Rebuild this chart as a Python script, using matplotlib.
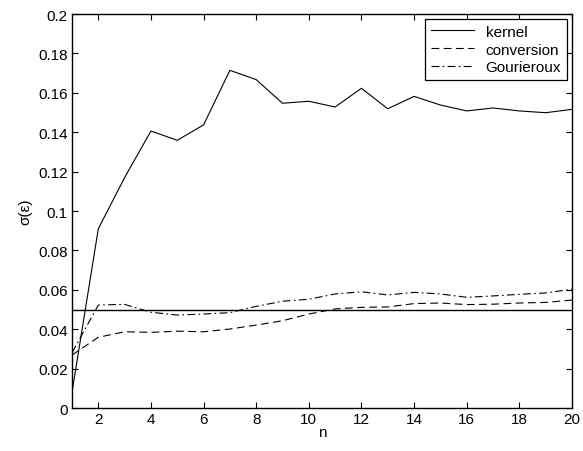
import numpy as np
import matplotlib.pyplot as plt

plt.rcParams['font.family'] = ['Liberation Sans', 'DejaVu Sans']
plt.rcParams['font.size'] = 11

n = np.arange(1, 21)
kernel = [0.008, 0.091, 0.117, 0.1406, 0.1359, 0.1437, 0.1714, 0.1667, 0.1547, 0.1557,
          0.1528, 0.1623, 0.1519, 0.1582, 0.1538, 0.1508, 0.1523, 0.1508, 0.1499, 0.1516]
conversion = [0.0269, 0.0359, 0.0387, 0.0384, 0.0390, 0.0387, 0.0401, 0.0421, 0.0443, 0.0477,
              0.0503, 0.0511, 0.0513, 0.0530, 0.0533, 0.0525, 0.0527, 0.0533, 0.0536, 0.0548]
gourieroux = [0.028, 0.0523, 0.0526, 0.0486, 0.0472, 0.0477, 0.0484, 0.0516, 0.0542, 0.0552,
              0.0579, 0.0590, 0.0574, 0.0587, 0.0579, 0.0562, 0.0569, 0.0577, 0.0584, 0.0603]
ref_level = 0.05

fig = plt.figure(figsize=(5.83, 4.52), dpi=100)
ax = fig.add_axes([0.1235, 0.0951, 0.8575, 0.8717])

ax.plot(n, kernel, 'k-', lw=0.8, label='kernel')
ax.plot(n, conversion, color='k', lw=0.8, dashes=(7, 4), label='conversion')
ax.plot(n, gourieroux, color='k', lw=0.8, dashes=(7, 3, 1.5, 3), label='Gourieroux')
ax.axhline(ref_level, color='k', lw=1.0)

ax.set_xlim(1, 20)
ax.set_ylim(0, 0.2)
ax.set_xticks(np.arange(2, 21, 2))
yt = np.arange(0, 0.2001, 0.02)
ax.set_yticks(yt)
ax.set_yticklabels(['%g' % round(v, 2) for v in yt])
ax.tick_params(direction='in', top=True, right=True, length=4, width=0.8, pad=3)
for s in ax.spines.values():
    s.set_linewidth(1.0)

ax.set_xlabel('n', labelpad=-1)
ax.set_ylabel('σ(ε)', labelpad=4)

leg = ax.legend(loc='upper right', fancybox=False, edgecolor='k', framealpha=1,
                borderaxespad=0.35, handlelength=2.8, handletextpad=0.8,
                labelspacing=0.25, borderpad=0.35)
leg.get_frame().set_linewidth(0.9)

fig.savefig('out.png', dpi=100)
